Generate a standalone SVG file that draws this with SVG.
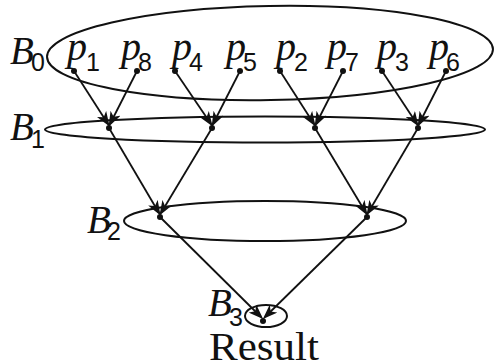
<svg xmlns="http://www.w3.org/2000/svg" width="495" height="362" viewBox="0 0 495 362">
<style>
.ell{fill:none;stroke:#111;stroke-width:2}
.c{stroke:#111;stroke-width:1.8;fill:none}
.dot{fill:#111}
.bl{font-family:"Liberation Serif","Times New Roman",serif;font-style:italic;font-size:39px;fill:#111}
.pl{font-family:"Liberation Serif","Times New Roman",serif;font-style:italic;font-size:40px;fill:#111}
.sub{font-family:"Liberation Sans",Arial,sans-serif;font-size:25px;fill:#111}
.res{font-family:"Liberation Serif","Times New Roman",serif;font-size:39px;fill:#111}
</style>
<defs>
<marker id="ah" markerUnits="userSpaceOnUse" markerWidth="15" markerHeight="11" viewBox="0 0 15 11" refX="12" refY="5.5" orient="auto">
<path d="M0,0 L15,5.5 L0,11 L4,5.5 z" fill="#111"/>
</marker>
</defs>
<g id="B0">
<ellipse class="ell" cx="270" cy="53" rx="223" ry="47" transform="rotate(-1 270 53)"/>
<text class="bl" x="10" y="64">B</text><text class="sub" x="31" y="71">0</text>
</g>
<g id="B1">
<ellipse class="ell" cx="265" cy="129.5" rx="220" ry="13"/>
<text class="bl" x="10" y="140">B</text><text class="sub" x="31" y="148">1</text>
</g>
<g id="B2">
<ellipse class="ell" cx="265" cy="221" rx="141" ry="20"/>
<text class="bl" x="87" y="233">B</text><text class="sub" x="107" y="240">2</text>
</g>
<g id="B3">
<ellipse class="ell" cx="266" cy="316" rx="21" ry="11"/>
<text class="bl" x="208" y="316">B</text><text class="sub" x="229" y="326">3</text>
</g>
<g id="p1"><text class="pl" x="67" y="60">p</text><text class="sub" x="86" y="71">1</text><circle class="dot" cx="74" cy="71" r="3"/></g>
<g id="p8"><text class="pl" x="121" y="60">p</text><text class="sub" x="138" y="71">8</text><circle class="dot" cx="137" cy="71" r="3"/></g>
<g id="p4"><text class="pl" x="172" y="60">p</text><text class="sub" x="189" y="71">4</text><circle class="dot" cx="175" cy="71" r="3"/></g>
<g id="p5"><text class="pl" x="226" y="60">p</text><text class="sub" x="243" y="71">5</text><circle class="dot" cx="240" cy="71" r="3"/></g>
<g id="p2"><text class="pl" x="276" y="60">p</text><text class="sub" x="294" y="71">2</text><circle class="dot" cx="280" cy="71" r="3"/></g>
<g id="p7"><text class="pl" x="327" y="60">p</text><text class="sub" x="345" y="71">7</text><circle class="dot" cx="343" cy="71" r="3"/></g>
<g id="p3"><text class="pl" x="377" y="60">p</text><text class="sub" x="395" y="71">3</text><circle class="dot" cx="382" cy="71" r="3"/></g>
<g id="p6"><text class="pl" x="429" y="60">p</text><text class="sub" x="446" y="71">6</text><circle class="dot" cx="446" cy="71" r="3"/></g>
<g id="n1a"><circle class="dot" cx="109" cy="128" r="3"/></g>
<g id="n1b"><circle class="dot" cx="212" cy="128" r="3"/></g>
<g id="n1c"><circle class="dot" cx="315" cy="128" r="3"/></g>
<g id="n1d"><circle class="dot" cx="418" cy="128" r="3"/></g>
<g id="n2a"><circle class="dot" cx="160" cy="217" r="3"/></g>
<g id="n2b"><circle class="dot" cx="367" cy="217" r="3"/></g>
<g id="n3"><circle class="dot" cx="263" cy="321" r="3"/></g>
<g id="connectors" class="c" marker-end="url(#ah)">
<line x1="74" y1="71" x2="108" y2="124"/>
<line x1="137" y1="71" x2="110" y2="124"/>
<line x1="175" y1="71" x2="211" y2="124"/>
<line x1="240" y1="71" x2="213" y2="124"/>
<line x1="280" y1="71" x2="314" y2="124"/>
<line x1="343" y1="71" x2="316" y2="124"/>
<line x1="382" y1="71" x2="417" y2="124"/>
<line x1="446" y1="71" x2="419" y2="124"/>
<line x1="109" y1="128" x2="159" y2="213"/>
<line x1="212" y1="128" x2="161" y2="213"/>
<line x1="315" y1="128" x2="366" y2="213"/>
<line x1="418" y1="128" x2="368" y2="213"/>
<line x1="160" y1="217" x2="261" y2="317"/>
<line x1="367" y1="217" x2="265" y2="317"/>
</g>
<text id="result" class="res" x="209" y="360" textLength="110" lengthAdjust="spacingAndGlyphs">Result</text>
</svg>
